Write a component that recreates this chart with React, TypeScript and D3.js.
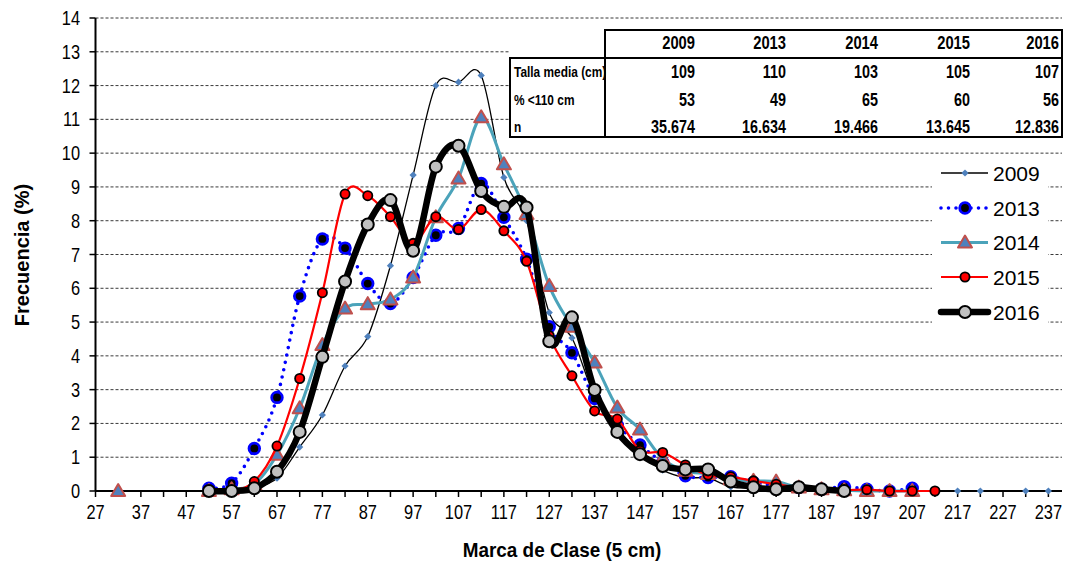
import React from "react";
import * as d3 from "d3";

const CLASSES = [32, 37, 42, 47, 52, 57, 62, 67, 72, 77, 82, 87, 92, 97, 102, 107, 112, 117, 122, 127, 132, 137, 142, 147, 152, 157, 162, 167, 172, 177, 182, 187, 192, 197, 202, 207, 212, 217, 222, 227, 232, 237];
const X_TICK_LABELS = [27, 37, 47, 57, 67, 77, 87, 97, 107, 117, 127, 137, 147, 157, 167, 177, 187, 197, 207, 217, 227, 237];
const Y_TICKS = [0, 1, 2, 3, 4, 5, 6, 7, 8, 9, 10, 11, 12, 13, 14];

const S2009 = [null, null, null, null, 0, 0.02, 0.1, 0.38, 1.3, 2.25, 3.7, 4.57, 6.67, 9.35, 12.0, 12.1, 12.3, 9.28, 8.0, 5.28, 4.53, 2.8, 1.85, 1.1, 0.62, 0.4, 0.38, 0.12, 0.08, 0.05, 0.04, 0.02, 0.01, 0, 0, 0, 0, 0, 0, null, 0, 0];
const S2013 = [null, null, null, null, 0.08, 0.23, 1.26, 2.77, 5.77, 7.46, 7.19, 6.14, 5.55, 6.32, 7.57, 7.77, 9.1, 8.1, 6.86, 4.86, 4.09, 2.74, 1.95, 1.36, 0.85, 0.45, 0.4, 0.42, 0.25, 0.15, 0.1, 0.05, 0.13, 0.05, 0, 0.08, null, null, null, null, null, null];
const S2014 = [0, null, null, null, 0, 0.05, 0.2, 1.07, 2.45, 4.32, 5.4, 5.53, 5.67, 6.32, 8.1, 9.25, 11.06, 9.67, 8.2, 6.07, 4.86, 3.8, 2.47, 1.82, 0.95, 0.6, 0.5, 0.35, 0.3, 0.28, 0.1, 0.05, 0.02, 0, 0, 0, null, null, null, null, null, null];
const S2015 = [null, null, null, null, 0, 0.02, 0.28, 1.33, 3.33, 5.87, 8.79, 8.74, 8.12, 7.33, 8.12, 7.74, 8.33, 7.7, 6.8, 4.6, 3.41, 2.37, 2.13, 1.2, 1.14, 0.77, 0.47, 0.42, 0.3, 0.2, 0.1, 0.05, 0.03, 0.04, 0, 0, 0, null, null, null, null, null];
const S2016 = [null, null, null, null, 0, 0, 0.08, 0.57, 1.75, 3.97, 6.2, 7.89, 8.61, 7.11, 9.6, 10.22, 8.88, 8.41, 8.39, 4.43, 5.14, 2.99, 1.75, 1.09, 0.74, 0.64, 0.64, 0.28, 0.11, 0.05, 0.11, 0.05, 0, null, null, null, null, null, null, null, null, null];

const YEARS = ["2009", "2013", "2014", "2015", "2016"];
const TALLA_MEDIA = ["109", "110", "103", "105", "107"];
const PCT_110 = ["53", "49", "65", "60", "56"];
const N_VALUES = ["35.674", "16.634", "19.466", "13.645", "12.836"];
const ROW_LABELS = ["Talla media (cm)", "% <110 cm", "n"];

const ARIAL = "'Liberation Sans', Arial, sans-serif";

const W = 1071, H = 563;
const PL = 95.5, PR = 1062, PT = 18, PB = 491;

const x = d3.scaleLinear().domain([27, 240]).range([PL, PR]);
const y = d3.scaleLinear().domain([0, 14]).range([PB, PT]);

// condensed text (emulates Arial Narrow)
function NText(props: { x: number; y: number; size: number; anchor?: string; bold?: boolean; sx?: number; children: any }) {
  const { x: tx, y: ty, size, anchor = "start", bold = false, sx = 0.82, children } = props;
  return (
    <text transform={`translate(${tx},${ty}) scale(${sx},1)`} textAnchor={anchor as any} fontFamily={ARIAL} fontSize={size} fontWeight={bold ? "bold" : "normal"}>
      {children}
    </text>
  );
}

type Style = {
  name: string;
  data: (number | null)[];
  stroke: string;
  width: number;
  dash?: string;
  marker: (k: string | number, cx: number, cy: number) => React.ReactNode;
};

const diamond = (k: any, cx: number, cy: number) => (
  <path key={k} d="M0,-3.6L3.6,0L0,3.6L-3.6,0Z" transform={`translate(${cx},${cy})`} fill="#4F81BD" />
);
const blueDot = (k: any, cx: number, cy: number) => (
  <circle key={k} cx={cx} cy={cy} r={5.3} fill="#000" stroke="#0000FF" strokeWidth={2.8} />
);
const triangle = (k: any, cx: number, cy: number) => (
  <path key={k} d="M0,-7L7,5L-7,5Z" transform={`translate(${cx},${cy})`} fill="#4F81BD" stroke="#C0504D" strokeWidth={2} strokeLinejoin="round" />
);
const redDot = (k: any, cx: number, cy: number) => (
  <circle key={k} cx={cx} cy={cy} r={4.6} fill="#FF0000" stroke="#000" strokeWidth={1.8} />
);
const grayDot = (k: any, cx: number, cy: number) => (
  <circle key={k} cx={cx} cy={cy} r={6} fill="#C0C0C0" stroke="#000" strokeWidth={2} />
);

const SERIES: Style[] = [
  { name: YEARS[0], data: S2009, stroke: "#000", width: 1.3, marker: diamond },
  { name: YEARS[1], data: S2013, stroke: "#0000FF", width: 3.6, dash: "0 7.5", marker: blueDot },
  { name: YEARS[2], data: S2014, stroke: "#4BA3BA", width: 3, marker: triangle },
  { name: YEARS[3], data: S2015, stroke: "#FF0000", width: 2.2, marker: redDot },
  { name: YEARS[4], data: S2016, stroke: "#000", width: 6.5, marker: grayDot },
];

export default function App() {
  const line = d3
    .line<{ c: number; v: number | null }>()
    .defined((d) => d.v != null)
    .x((d) => x(d.c))
    .y((d) => y(d.v as number))
    .curve(d3.curveCardinal.tension(0));

  const colRight = [695, 786, 878, 970, 1059];
  const rowBase = [78, 106, 133];
  const legendY = [173, 208, 242.5, 277, 312];

  return (
    <svg width={W} height={H} style={{ position: "absolute", left: 0, top: 0, background: "#fff" }}>
      <rect x={0} y={0} width={W} height={H} fill="#fff" />
      {/* grid */}
      {Y_TICKS.filter((t) => t > 0).map((t) => (
        <line key={t} x1={PL} x2={PR} y1={y(t)} y2={y(t)} stroke="#222" strokeWidth={0.9} strokeDasharray="3 2" />
      ))}
      {/* y axis */}
      <line x1={PL} x2={PL} y1={PT} y2={PB} stroke="#000" strokeWidth={2} />
      {Y_TICKS.map((t) => (
        <g key={t}>
          <line x1={PL - 6} x2={PL} y1={y(t)} y2={y(t)} stroke="#000" strokeWidth={1.5} />
          <NText x={80} y={y(t) + 7} size={20} anchor="end">{t}</NText>
        </g>
      ))}
      {/* x axis */}
      <line x1={PL} x2={PR} y1={PB} y2={PB} stroke="#000" strokeWidth={2.2} />
      {[27, ...CLASSES].map((c) => (
        <line key={c} x1={x(c)} x2={x(c)} y1={PB} y2={PB + 6} stroke="#000" strokeWidth={1.5} />
      ))}
      {X_TICK_LABELS.map((t) => (
        <NText key={t} x={x(t)} y={519} size={20} anchor="middle">{t}</NText>
      ))}
      {/* titles */}
      <NText x={562} y={557} size={21} sx={0.9} anchor="middle" bold>Marca de Clase (5 cm)</NText>
      <text transform="translate(29,255) rotate(-90)" textAnchor="middle" fontFamily={ARIAL} fontWeight="bold" fontSize={20}>Frecuencia (%)</text>

      {/* table */}
      <rect x={510} y={29} width={552} height={108} fill="#fff" />
      <g stroke="#000" strokeWidth={2} fill="none">
        <polyline points="605,58 605,30 1062,30 1062,137 510,137 510,58 1062,58" />
        <line x1={605} x2={605} y1={58} y2={137} />
      </g>
      {YEARS.map((yr, i) => (
        <NText key={yr} x={colRight[i]} y={49} size={18} anchor="end" bold>{yr}</NText>
      ))}
      {[TALLA_MEDIA, PCT_110, N_VALUES].map((row, r) => (
        <g key={r}>
          <NText x={514} y={rowBase[r] - 1} size={14.5} bold>{ROW_LABELS[r]}</NText>
          {row.map((v, i) => (
            <NText key={i} x={colRight[i]} y={rowBase[r]} size={17.5} anchor="end" bold>{v}</NText>
          ))}
        </g>
      ))}

      {/* series */}
      {SERIES.map((s) => {
        const pts = CLASSES.map((c, i) => ({ c, v: s.data[i] }));
        return (
          <g key={s.name}>
            <path d={line(pts) || ""} fill="none" stroke={s.stroke} strokeWidth={s.width} strokeDasharray={s.dash} strokeLinecap={s.dash ? "round" : "butt"} strokeLinejoin="round" />
            {pts.filter((p) => p.v != null).map((p, i) => s.marker(i, x(p.c), y(p.v as number)))}
          </g>
        );
      })}

      {/* legend */}
      <rect x={932} y={157} width={116} height={172} fill="#fff" />
      {SERIES.map((s, i) => (
        <g key={s.name}>
          <line x1={941} x2={988} y1={legendY[i]} y2={legendY[i]} stroke={s.stroke} strokeWidth={s.width} strokeDasharray={s.dash} strokeLinecap={s.dash || i === 4 ? "round" : "butt"} />
          {s.marker("m" + i, 965, legendY[i])}
          <text x={993} y={legendY[i] + 7.5} fontFamily={ARIAL} fontSize={21}>{s.name}</text>
        </g>
      ))}
    </svg>
  );
}
